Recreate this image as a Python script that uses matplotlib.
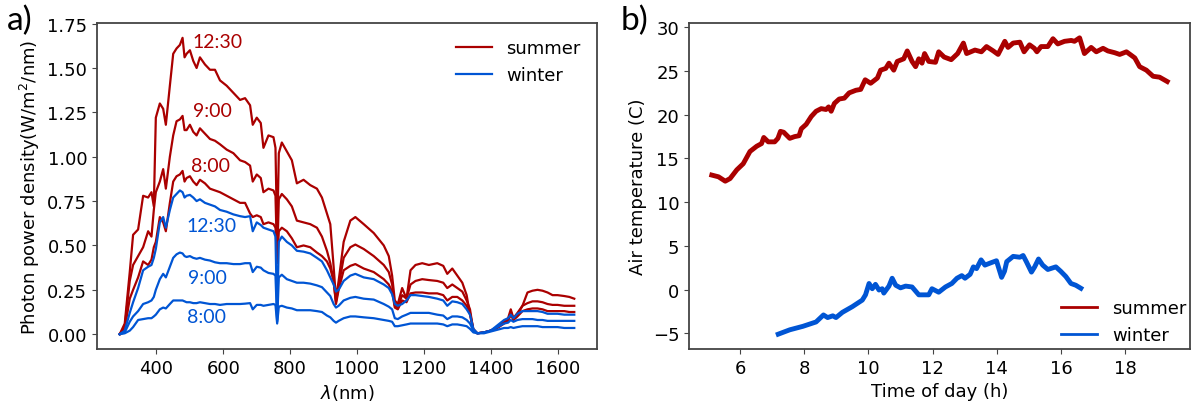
import matplotlib
matplotlib.use('Agg')
import matplotlib.pyplot as plt
from matplotlib.lines import Line2D

# wavelength grid (nm)
wl = [290, 305, 320, 330, 345, 360, 375, 385, 392, 398, 410, 420, 428, 440, 450, 460, 470, 478, 484, 490,
      500, 510, 520, 530, 545, 560, 575, 590, 610, 630, 650, 665, 680, 688, 700, 712, 720, 735, 750, 756,
      761, 766, 775, 790, 805, 820, 840, 860, 880, 895, 910, 920, 930, 937, 945, 960, 980, 995, 1020, 1050,
      1080, 1095, 1105, 1113, 1122, 1135, 1148, 1160, 1175, 1195, 1215, 1240, 1258, 1270, 1285, 1300, 1315, 1328, 1338, 1348,
      1360, 1380, 1400, 1420, 1440, 1452, 1460, 1468, 1480, 1495, 1510, 1525, 1540, 1555, 1570, 1585, 1600, 1620, 1635, 1650]

summer_1230 = [0.0, 0.06, 0.35, 0.56, 0.59, 0.78, 0.77, 0.80, 0.72, 1.22, 1.30, 1.27, 1.18, 1.40, 1.58, 1.61, 1.63, 1.67, 1.56, 1.58,
               1.60, 1.54, 1.50, 1.56, 1.52, 1.49, 1.49, 1.43, 1.40, 1.36, 1.32, 1.33, 1.29, 1.18, 1.22, 1.19, 1.05, 1.12, 1.11, 1.05,
               0.53, 1.02, 1.08, 1.03, 0.98, 0.85, 0.87, 0.84, 0.82, 0.77, 0.68, 0.62, 0.38, 0.20, 0.30, 0.52, 0.64, 0.66, 0.62, 0.57,
               0.50, 0.44, 0.33, 0.19, 0.17, 0.26, 0.20, 0.36, 0.39, 0.40, 0.39, 0.40, 0.385, 0.34, 0.37, 0.33, 0.29, 0.22, 0.11, 0.02,
               0.005, 0.01, 0.02, 0.04, 0.07, 0.09, 0.14, 0.09, 0.12, 0.16, 0.235, 0.245, 0.25, 0.245, 0.235, 0.22, 0.22, 0.215, 0.21, 0.20]
summer_0900 = [0.0, 0.04, 0.30, 0.39, 0.44, 0.49, 0.58, 0.55, 0.70, 0.80, 0.86, 0.93, 0.82, 1.00, 1.12, 1.20, 1.21, 1.23, 1.15, 1.15,
               1.18, 1.14, 1.12, 1.16, 1.13, 1.10, 1.09, 1.07, 1.04, 1.02, 0.98, 0.97, 0.95, 0.86, 0.90, 0.88, 0.80, 0.82, 0.81, 0.78,
               0.42, 0.76, 0.79, 0.76, 0.72, 0.64, 0.63, 0.62, 0.60, 0.55, 0.47, 0.40, 0.30, 0.18, 0.27, 0.43, 0.49, 0.505, 0.48, 0.44,
               0.39, 0.35, 0.28, 0.16, 0.15, 0.22, 0.20, 0.28, 0.30, 0.31, 0.305, 0.30, 0.29, 0.26, 0.28, 0.26, 0.24, 0.19, 0.14, 0.02,
               0.005, 0.01, 0.02, 0.04, 0.065, 0.08, 0.12, 0.085, 0.11, 0.16, 0.175, 0.185, 0.185, 0.18, 0.17, 0.165, 0.165, 0.16, 0.16, 0.16]
summer_0800 = [0.0, 0.03, 0.20, 0.25, 0.32, 0.41, 0.39, 0.42, 0.49, 0.52, 0.66, 0.63, 0.58, 0.74, 0.86, 0.89, 0.90, 0.92, 0.86, 0.88,
               0.89, 0.86, 0.84, 0.87, 0.85, 0.82, 0.81, 0.80, 0.78, 0.76, 0.74, 0.74, 0.68, 0.66, 0.67, 0.66, 0.62, 0.63, 0.62, 0.60,
               0.40, 0.58, 0.60, 0.58, 0.54, 0.49, 0.50, 0.49, 0.46, 0.44, 0.41, 0.37, 0.30, 0.17, 0.25, 0.36, 0.385, 0.395, 0.37, 0.35,
               0.31, 0.28, 0.24, 0.15, 0.14, 0.19, 0.18, 0.23, 0.235, 0.235, 0.23, 0.23, 0.22, 0.19, 0.21, 0.21, 0.19, 0.16, 0.12, 0.03,
               0.005, 0.01, 0.02, 0.035, 0.06, 0.075, 0.11, 0.08, 0.10, 0.13, 0.14, 0.145, 0.145, 0.14, 0.13, 0.13, 0.13, 0.13, 0.125, 0.125]
winter_1230 = [0.0, 0.02, 0.12, 0.18, 0.26, 0.36, 0.38, 0.39, 0.43, 0.48, 0.63, 0.66, 0.60, 0.70, 0.77, 0.79, 0.81, 0.80, 0.77, 0.78,
               0.785, 0.77, 0.75, 0.76, 0.74, 0.73, 0.72, 0.70, 0.69, 0.675, 0.665, 0.66, 0.665, 0.58, 0.63, 0.615, 0.60, 0.59, 0.58, 0.55,
               0.08, 0.52, 0.55, 0.52, 0.50, 0.47, 0.465, 0.455, 0.43, 0.41, 0.36, 0.32, 0.28, 0.24, 0.25, 0.30, 0.33, 0.34, 0.32, 0.31,
               0.28, 0.26, 0.225, 0.17, 0.16, 0.17, 0.19, 0.22, 0.22, 0.215, 0.21, 0.20, 0.19, 0.16, 0.185, 0.18, 0.17, 0.14, 0.11, 0.03,
               0.005, 0.01, 0.02, 0.05, 0.08, 0.09, 0.11, 0.09, 0.115, 0.13, 0.13, 0.13, 0.13, 0.125, 0.115, 0.115, 0.115, 0.11, 0.11, 0.11]
winter_0900 = [0.0, 0.01, 0.07, 0.10, 0.13, 0.17, 0.18, 0.19, 0.21, 0.25, 0.31, 0.34, 0.32, 0.38, 0.43, 0.45, 0.46, 0.455, 0.44, 0.435,
               0.44, 0.43, 0.425, 0.43, 0.42, 0.415, 0.405, 0.40, 0.40, 0.395, 0.395, 0.40, 0.40, 0.35, 0.38, 0.375, 0.36, 0.345, 0.34, 0.33,
               0.07, 0.32, 0.335, 0.31, 0.30, 0.29, 0.29, 0.285, 0.275, 0.265, 0.235, 0.215, 0.17, 0.15, 0.16, 0.19, 0.205, 0.21, 0.20, 0.195,
               0.17, 0.155, 0.14, 0.09, 0.085, 0.10, 0.11, 0.12, 0.12, 0.12, 0.12, 0.11, 0.105, 0.085, 0.10, 0.10, 0.095, 0.08, 0.06, 0.02,
               0.005, 0.01, 0.02, 0.04, 0.06, 0.065, 0.08, 0.07, 0.08, 0.085, 0.085, 0.085, 0.08, 0.08, 0.075, 0.075, 0.075, 0.075, 0.075, 0.075]
winter_0800 = [0.0, 0.005, 0.02, 0.04, 0.08, 0.085, 0.09, 0.09, 0.10, 0.11, 0.14, 0.15, 0.145, 0.17, 0.19, 0.19, 0.19, 0.19, 0.185, 0.18,
               0.18, 0.175, 0.175, 0.18, 0.175, 0.17, 0.17, 0.165, 0.17, 0.17, 0.17, 0.172, 0.175, 0.14, 0.165, 0.165, 0.16, 0.165, 0.17, 0.165,
               0.06, 0.155, 0.16, 0.15, 0.145, 0.135, 0.135, 0.135, 0.13, 0.125, 0.105, 0.095, 0.075, 0.065, 0.075, 0.09, 0.10, 0.10, 0.095, 0.09,
               0.08, 0.075, 0.07, 0.045, 0.045, 0.05, 0.055, 0.06, 0.06, 0.06, 0.06, 0.06, 0.055, 0.045, 0.055, 0.055, 0.05, 0.045, 0.03, 0.01,
               0.005, 0.005, 0.015, 0.025, 0.035, 0.035, 0.04, 0.035, 0.04, 0.045, 0.045, 0.045, 0.045, 0.04, 0.04, 0.04, 0.04, 0.035, 0.035, 0.035]

# air temperature vs time of day
t_summer = [5.12, 5.33, 5.54, 5.69, 5.90, 6.10, 6.31, 6.52, 6.67, 6.74, 6.88, 7.08, 7.18, 7.26, 7.36, 7.55, 7.70, 7.84, 7.91, 8.06,
            8.22, 8.37, 8.53, 8.68, 8.76, 8.84, 8.94, 9.09, 9.25, 9.40, 9.61, 9.76, 9.90, 10.07, 10.28, 10.38, 10.54, 10.64, 10.79, 10.90,
            11.10, 11.21, 11.36, 11.47, 11.57, 11.67, 11.75, 11.88, 12.09, 12.19, 12.36, 12.58, 12.78, 12.96, 13.06, 13.32, 13.52, 13.68, 13.89, 14.04,
            14.25, 14.35, 14.51, 14.72, 14.85, 15.02, 15.17, 15.25, 15.38, 15.59, 15.75, 15.90, 16.11, 16.32, 16.42, 16.58, 16.73, 16.94, 17.10, 17.31,
            17.46, 17.67, 17.83, 18.04, 18.19, 18.30, 18.45, 18.66, 18.87, 19.07, 19.31]
T_summer = [13.1, 12.9, 12.4, 12.7, 13.7, 14.4, 15.8, 16.4, 16.7, 17.4, 16.9, 16.9, 17.3, 18.1, 18.0, 17.3, 17.5, 17.6, 18.4, 18.9,
            19.8, 20.4, 20.7, 20.6, 20.9, 20.4, 21.3, 21.8, 21.9, 22.5, 22.8, 22.9, 24.0, 23.6, 24.2, 25.1, 25.3, 25.9, 25.1, 26.1,
            26.4, 27.3, 26.1, 25.5, 26.4, 25.9, 27.0, 26.1, 26.0, 27.2, 26.6, 26.3, 27.0, 28.2, 27.0, 27.4, 27.2, 27.8, 27.3, 26.9,
            28.4, 27.7, 28.2, 28.3, 27.2, 28.0, 27.6, 27.2, 27.8, 27.8, 28.7, 28.1, 28.4, 28.5, 28.4, 28.8, 27.0, 27.7, 27.2, 27.6,
            27.3, 27.1, 26.9, 27.2, 26.8, 26.5, 25.5, 25.1, 24.4, 24.3, 23.8]
t_winter = [7.19, 7.55, 7.96, 8.37, 8.60, 8.73, 8.89, 8.99, 9.19, 9.50, 9.81, 9.91, 10.02, 10.12, 10.22, 10.33, 10.43, 10.48, 10.64, 10.74,
            10.85, 11.00, 11.16, 11.36, 11.57, 11.88, 11.98, 12.19, 12.40, 12.60, 12.76, 12.91, 13.01, 13.17, 13.27, 13.37, 13.51, 13.63, 13.84, 13.99,
            14.15, 14.24, 14.31, 14.51, 14.72, 14.82, 14.92, 15.08, 15.18, 15.30, 15.43, 15.59, 15.84, 15.99, 16.15, 16.31, 16.46, 16.62]
T_winter = [-5.1, -4.6, -4.2, -3.7, -2.9, -3.2, -3.0, -3.2, -2.6, -1.95, -1.2, -0.6, 0.7, 0.1, 0.6, -0.05, 0.1, -0.4, 0.4, 1.3,
            0.5, 0.2, 0.4, 0.3, -0.6, -0.6, 0.1, -0.3, 0.3, 0.7, 1.3, 1.6, 1.3, 1.75, 2.6, 2.4, 3.4, 2.8, 3.1, 3.3,
            1.4, 2.1, 3.2, 3.8, 3.7, 3.9, 3.2, 2.0, 2.6, 3.5, 2.8, 2.3, 2.6, 2.1, 1.5, 0.7, 0.5, 0.15]

red = '#aa0000'
blue = '#0055d4'
label_font = 'Lato'

plt.rcParams['font.size'] = 13
plt.rcParams['axes.edgecolor'] = '#444444'
plt.rcParams['axes.linewidth'] = 1.3

fig = plt.figure(figsize=(11.94, 4.06), dpi=100)
ax1 = fig.add_axes([97 / 1194, 56 / 406, 500 / 1194, 326 / 406])
ax2 = fig.add_axes([689 / 1194, 56 / 406, 501 / 1194, 326 / 406])

# a) spectra
ax1.plot(wl, summer_1230, color=red, lw=1.6, label='summer')
ax1.plot(wl, summer_0900, color=red, lw=1.6)
ax1.plot(wl, summer_0800, color=red, lw=1.6)
ax1.plot(wl, winter_1230, color=blue, lw=1.6, label='winter')
ax1.plot(wl, winter_0900, color=blue, lw=1.6)
ax1.plot(wl, winter_0800, color=blue, lw=1.6)

ax1.text(507, 1.65, '12:30', color=red, fontsize=14, family=label_font, va='center')
ax1.text(510, 1.26, '9:00', color=red, fontsize=14, family=label_font, va='center')
ax1.text(504, 0.95, '8:00', color=red, fontsize=14, family=label_font, va='center')
ax1.text(490, 0.61, '12:30', color=blue, fontsize=14, family=label_font, va='center')
ax1.text(493, 0.32, '9:00', color=blue, fontsize=14, family=label_font, va='center')
ax1.text(490, 0.10, '8:00', color=blue, fontsize=14, family=label_font, va='center')

ax1.set_xticks([400, 600, 800, 1000, 1200, 1400, 1600])
ax1.set_yticks([0, 0.25, 0.5, 0.75, 1.0, 1.25, 1.5, 1.75])
ax1.set_xlabel(r'$\lambda$(nm)')
ax1.set_ylabel(r'Photon power density(W/m$^2$/nm)')
ax1.legend(loc='upper right', frameon=False, fontsize=13)

# b) air temperature
ax2.plot(t_summer, T_summer, color=red, lw=3.5)
ax2.plot(t_winter, T_winter, color=blue, lw=3.5)
ax2.set_xticks([6, 8, 10, 12, 14, 16, 18])
ax2.set_yticks([-5, 0, 5, 10, 15, 20, 25, 30])
ax2.set_xlabel('Time of day (h)')
ax2.set_ylabel('Air temperature (C)')
handles = [Line2D([], [], color=red, lw=2), Line2D([], [], color=blue, lw=2)]
ax2.legend(handles, ['summer', 'winter'], loc='lower right', frameon=False, fontsize=13,
           bbox_to_anchor=(1.025, -0.035))

for ax in (ax1, ax2):
    ax.tick_params(color='#444444', labelsize=13)

fig.text(0.006, 0.985, 'a)', fontsize=24, family=label_font, va='top')
fig.text(0.520, 0.985, 'b)', fontsize=24, family=label_font, va='top')

fig.savefig('out.png', dpi=100)
